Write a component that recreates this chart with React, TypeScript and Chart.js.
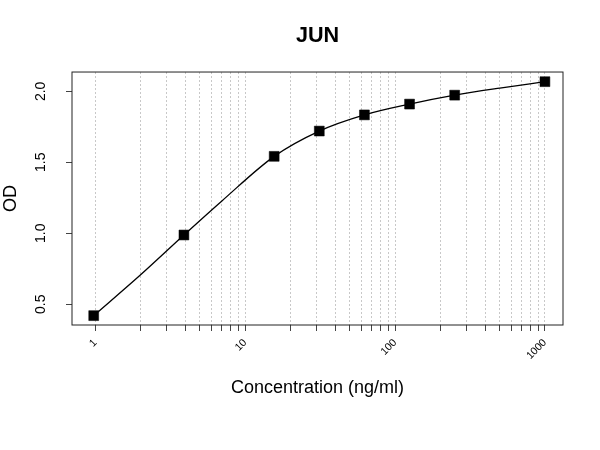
import { useEffect, useRef } from "react";
import { Chart, registerables } from "chart.js";

Chart.register(...registerables);

const FONT = "'Liberation Sans', Arial, Helvetica, sans-serif";

// Measured standards (concentration in ng/ml, OD)
const concentrations = [0.977, 3.906, 15.625, 31.25, 62.5, 125, 250, 1000];
const odValues = [0.42, 0.988, 1.542, 1.72, 1.834, 1.91, 1.973, 2.068];

// Fitted curve
const curveX = [0.977, 2, 3.906, 7, 15.625, 31.25, 62.5, 125, 250, 500, 1000];
const curveY = [0.42, 0.706, 0.988, 1.228, 1.542, 1.72, 1.834, 1.91, 1.973, 2.023, 2.068];

// Axis ticks
const xTickValues = [
  1, 2, 3, 4, 5, 6, 7, 8, 9,
  10, 20, 30, 40, 50, 60, 70, 80, 90,
  100, 200, 300, 400, 500, 600, 700, 800, 900,
  1000,
];
const xLabeledTicks = [1, 10, 100, 1000];
const xTickLabels = ["1", "10", "100", "1000"];
const yTickValues = [0.5, 1.0, 1.5, 2.0];
const yTickLabels = ["0.5", "1.0", "1.5", "2.0"];

const xMin = 0.74;
const xMax = 1320;
const yMin = 0.354;
const yMax = 2.136;

const framePlugin = {
  id: "frameBox",
  afterDraw(chart: any) {
    const { ctx, chartArea } = chart;
    const { left, top, right, bottom } = chartArea;
    ctx.save();
    ctx.strokeStyle = "#222";
    ctx.lineWidth = 1;
    ctx.strokeRect(left, top, right - left, bottom - top);
    ctx.restore();
  },
};

export default function App() {
  const ref = useRef<HTMLCanvasElement>(null);

  useEffect(() => {
    if (!ref.current) return;
    const curveData = curveX.map((x, i) => ({ x, y: curveY[i] }));
    const pointData = concentrations.map((x, i) => ({ x, y: odValues[i] }));

    const chart = new Chart(ref.current, {
      type: "scatter",
      data: {
        datasets: [
          {
            data: curveData,
            showLine: true,
            borderColor: "#000",
            borderWidth: 1.3,
            pointRadius: 0,
            cubicInterpolationMode: "monotone",
            fill: false,
            order: 2,
          } as any,
          {
            data: pointData,
            showLine: false,
            pointStyle: "rect",
            pointRadius: 7,
            backgroundColor: "#000",
            borderColor: "#000",
            borderWidth: 0.5,
            order: 1,
          } as any,
        ],
      },
      options: {
        animation: false,
        responsive: false,
        events: [],
        layout: { padding: { left: 0, right: 37, top: 0, bottom: 0 } },
        plugins: {
          legend: { display: false },
          tooltip: { enabled: false },
          title: {
            display: true,
            text: "JUN",
            fullSize: false,
            color: "#000",
            font: { family: FONT, size: 21.6, weight: "bold" },
            padding: { top: 23.3, bottom: 22.8 },
          },
        },
        scales: {
          x: {
            type: "logarithmic",
            position: "bottom",
            min: xMin,
            max: xMax,
            afterBuildTicks: (s: any) => {
              s.ticks = xTickValues.map((v) => ({ value: v }));
            },
            afterFit: (s: any) => {
              s.height = 125;
            },
            ticks: {
              autoSkip: false,
              minRotation: 45,
              maxRotation: 45,
              padding: 5.5,
              color: "#000",
              font: { family: FONT, size: 10.5 },
              callback: (v: any) => {
                const i = xLabeledTicks.indexOf(Number(v));
                return i >= 0 ? xTickLabels[i] : "";
              },
            },
            grid: {
              display: true,
              drawOnChartArea: true,
              drawTicks: true,
              color: "#c8c8c8",
              lineWidth: 1,
              tickLength: 6,
              tickColor: "#444",
              tickWidth: 1,
            },
            border: { display: false, dash: [2, 2] },
            title: {
              display: true,
              text: "Concentration (ng/ml)",
              color: "#000",
              font: { family: FONT, size: 18 },
              padding: { top: 0, bottom: 51 },
            },
          } as any,
          y: {
            type: "linear",
            position: "left",
            min: yMin,
            max: yMax,
            afterBuildTicks: (s: any) => {
              s.ticks = yTickValues.map((v) => ({ value: v }));
            },
            afterFit: (s: any) => {
              s.width = 72;
            },
            ticks: {
              minRotation: 90,
              maxRotation: 90,
              crossAlign: "center",
              padding: 15,
              color: "#000",
              font: { family: FONT, size: 14 },
              callback: (v: any) => {
                const i = yTickValues.indexOf(Number(v));
                return i >= 0 ? yTickLabels[i] : "";
              },
            },
            grid: {
              drawOnChartArea: false,
              drawTicks: true,
              tickLength: 6,
              tickColor: "#444",
              color: "#444",
            },
            border: { display: false },
            title: {
              display: true,
              text: "OD",
              color: "#000",
              font: { family: FONT, size: 18 },
              padding: { top: 0, bottom: 0 },
            },
          } as any,
        },
      },
      plugins: [framePlugin],
    });

    return () => chart.destroy();
  }, []);

  return (
    <div style={{ position: "absolute", left: 0, top: 0, width: 600, height: 450, background: "#fff" }}>
      <canvas ref={ref} width={600} height={450} style={{ display: "block", width: 600, height: 450 }} />
    </div>
  );
}
